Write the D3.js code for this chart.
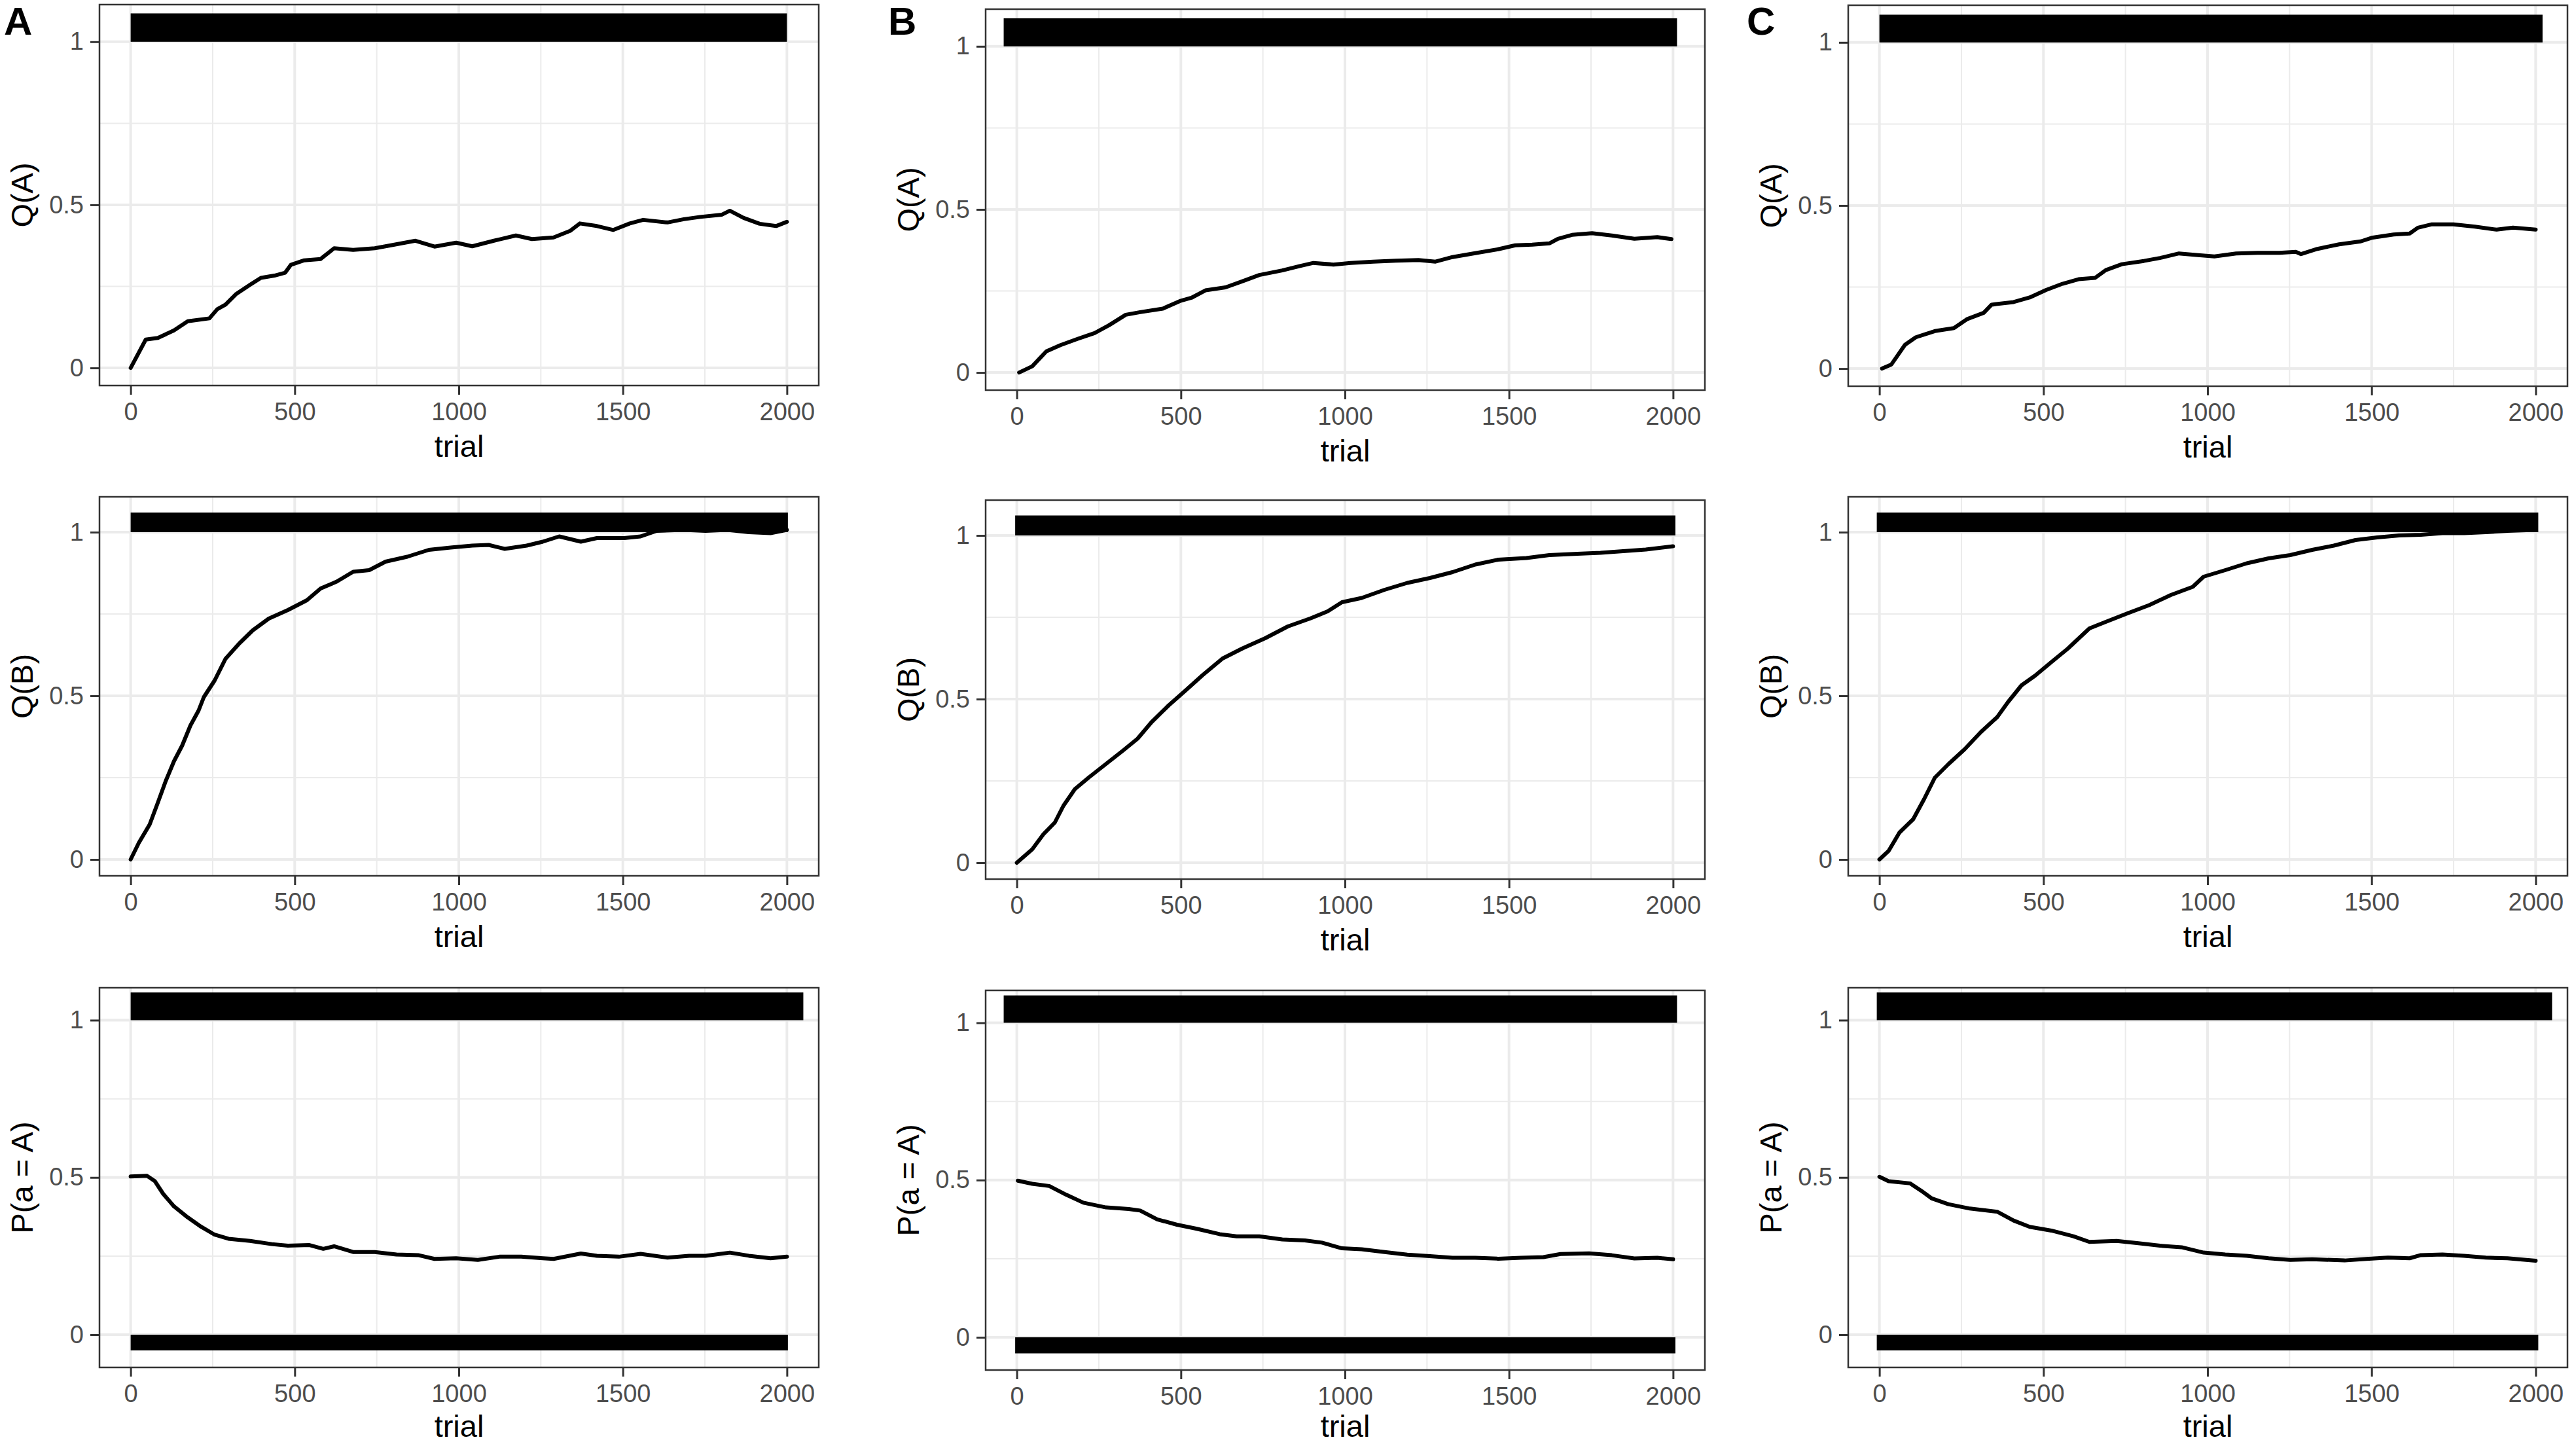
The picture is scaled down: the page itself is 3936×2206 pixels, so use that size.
<!DOCTYPE html>
<html>
<head>
<meta charset="utf-8">
<script src="https://cdn.jsdelivr.net/npm/d3@7"></script>
<style>
  html, body { margin: 0; padding: 0; background: #ffffff; }
  svg { display: block; }
  text { font-family: "Liberation Sans", Arial, Helvetica, sans-serif; }
</style>
</head>
<body>
<script>
// ---------------- DATA ----------------
const panelLetters = ["A", "B", "C"];
const rowTitles = ["Q(A)", "Q(B)", "P(a = A)"];
const xTitle = "trial";
const trialTicks = [0, 500, 1000, 1500, 2000];
const trialMinor = [250, 750, 1250, 1750];
const valueTicks = [0, 0.5, 1];
const valueTickLabels = ["0", "0.5", "1"];
const valueMinor = [0.25, 0.75];

// Column A
const qA_colA = [[0,0],[46,0.087],[83,0.092],[132,0.115],[174,0.143],[240,0.152],[264,0.18],[289,0.194],[322,0.227],[364,0.255],[397,0.276],[438,0.283],[471,0.292],[488,0.316],[529,0.33],[579,0.334],[620,0.367],[678,0.362],[744,0.367],[793,0.376],[868,0.39],[926,0.372],[992,0.384],[1041,0.373],[1107,0.39],[1174,0.406],[1223,0.395],[1289,0.4],[1339,0.42],[1369,0.443],[1421,0.435],[1471,0.423],[1521,0.443],[1562,0.454],[1636,0.446],[1686,0.456],[1736,0.463],[1802,0.47],[1826,0.482],[1868,0.46],[1917,0.442],[1967,0.435],[2000,0.448]];
const qB_colA = [[0,0],[25,0.051],[58,0.107],[83,0.174],[107,0.24],[132,0.3],[157,0.348],[182,0.409],[207,0.455],[223,0.496],[256,0.547],[289,0.613],[331,0.66],[372,0.7],[421,0.736],[479,0.762],[537,0.792],[579,0.828],[628,0.849],[678,0.879],[727,0.884],[777,0.91],[843,0.925],[909,0.946],[975,0.953],[1041,0.959],[1091,0.961],[1140,0.949],[1207,0.959],[1256,0.971],[1306,0.987],[1372,0.971],[1421,0.982],[1504,0.982],[1554,0.987],[1603,1.004],[1686,1.007],[1752,1.004],[1818,1.007],[1884,1.0],[1950,0.997],[2000,1.007]];
const pA_colA = [[0,0.503],[50,0.505],[74,0.488],[99,0.448],[132,0.408],[174,0.373],[215,0.343],[256,0.318],[298,0.305],[364,0.298],[430,0.288],[479,0.283],[545,0.285],[587,0.273],[620,0.281],[678,0.263],[744,0.263],[810,0.255],[876,0.253],[926,0.241],[992,0.243],[1058,0.238],[1124,0.248],[1190,0.248],[1256,0.243],[1289,0.241],[1372,0.258],[1421,0.251],[1488,0.248],[1554,0.257],[1636,0.245],[1702,0.251],[1752,0.251],[1826,0.261],[1884,0.251],[1950,0.243],[2000,0.248]];

// Column B
const qA_colB = [[7,0],[47,0.019],[90,0.065],[133,0.084],[185,0.103],[237,0.121],[281,0.145],[332,0.177],[376,0.185],[445,0.196],[497,0.219],[532,0.229],[575,0.252],[636,0.261],[688,0.28],[739,0.299],[809,0.313],[861,0.326],[904,0.336],[965,0.331],[1017,0.336],[1086,0.34],[1155,0.343],[1224,0.345],[1276,0.34],[1328,0.354],[1397,0.366],[1467,0.378],[1519,0.39],[1571,0.392],[1623,0.396],[1649,0.41],[1692,0.422],[1753,0.427],[1813,0.42],[1882,0.41],[1952,0.415],[1995,0.409]];
const qB_colB = [[0,0],[47,0.041],[81,0.087],[116,0.123],[142,0.174],[177,0.225],[220,0.261],[272,0.302],[324,0.343],[368,0.379],[411,0.43],[463,0.481],[515,0.527],[566,0.573],[627,0.624],[688,0.655],[757,0.686],[826,0.722],[896,0.747],[947,0.768],[991,0.796],[1051,0.809],[1121,0.834],[1190,0.855],[1259,0.87],[1328,0.888],[1397,0.911],[1467,0.926],[1553,0.931],[1623,0.94],[1709,0.944],[1779,0.947],[1848,0.952],[1917,0.957],[2000,0.967]];
const pA_colB = [[3,0.498],[47,0.488],[99,0.481],[151,0.453],[203,0.428],[272,0.413],[341,0.408],[376,0.403],[428,0.375],[488,0.358],[549,0.345],[618,0.328],[670,0.321],[739,0.321],[809,0.311],[878,0.308],[930,0.301],[991,0.283],[1051,0.28],[1121,0.271],[1190,0.263],[1259,0.258],[1328,0.253],[1397,0.253],[1467,0.25],[1536,0.253],[1605,0.255],[1657,0.265],[1744,0.267],[1813,0.261],[1882,0.251],[1952,0.253],[2000,0.248]];

// Column C
const qA_colC = [[8,0],[36,0.012],[78,0.073],[111,0.096],[169,0.115],[227,0.124],[268,0.152],[318,0.171],[342,0.196],[409,0.204],[458,0.218],[508,0.241],[558,0.26],[607,0.274],[657,0.278],[690,0.302],[739,0.32],[806,0.33],[855,0.339],[913,0.353],[971,0.348],[1021,0.344],[1087,0.353],[1153,0.355],[1219,0.355],[1269,0.358],[1285,0.351],[1335,0.367],[1401,0.381],[1467,0.39],[1500,0.401],[1567,0.411],[1616,0.414],[1641,0.432],[1682,0.442],[1749,0.442],[1815,0.435],[1881,0.426],[1931,0.432],[2000,0.426]];
const qB_colC = [[0,0],[28,0.026],[61,0.082],[103,0.123],[136,0.184],[169,0.25],[210,0.291],[260,0.337],[309,0.389],[359,0.435],[392,0.481],[433,0.532],[475,0.562],[524,0.603],[574,0.644],[640,0.706],[690,0.726],[756,0.752],[822,0.777],[888,0.808],[955,0.833],[988,0.864],[1054,0.884],[1120,0.905],[1186,0.92],[1252,0.93],[1319,0.946],[1385,0.959],[1451,0.976],[1517,0.984],[1584,0.99],[1650,0.992],[1716,0.997],[1782,0.997],[1848,1.0],[1914,1.004],[2000,1.007]];
const pA_colC = [[0,0.502],[28,0.488],[94,0.481],[127,0.458],[160,0.433],[210,0.415],[276,0.401],[359,0.391],[409,0.363],[458,0.343],[524,0.331],[591,0.313],[640,0.295],[723,0.298],[789,0.291],[855,0.283],[921,0.278],[988,0.261],[1054,0.255],[1120,0.251],[1186,0.243],[1252,0.238],[1319,0.24],[1418,0.236],[1484,0.241],[1550,0.245],[1616,0.243],[1650,0.253],[1716,0.255],[1782,0.251],[1848,0.245],[1914,0.243],[2000,0.235]];

// Choice / outcome rug bands: [trialFrom, trialTo, valueFrom, valueTo]
const rug_qA_colA = [[0, 2000, 1, 1.087]];
const rug_qB_colA = [[0, 2003, 1, 1.06]];
const rug_pA_colA = [[0, 2050, 1, 1.088], [0, 2003, 0, -0.05]];
const rug_qA_colB = [[-40, 2012, 1, 1.086]];
const rug_qB_colB = [[-5, 2007, 1, 1.061]];
const rug_pA_colB = [[-40, 2012, 1, 1.087], [-5, 2007, 0, -0.051]];
const rug_qA_colC = [[0, 2021, 1, 1.085]];
const rug_qB_colC = [[-8, 2008, 1, 1.06]];
const rug_pA_colC = [[-8, 2050, 1, 1.088], [-8, 2008, 0, -0.05]];

const seriesGrid = [
  [qA_colA, qB_colA, pA_colA],
  [qA_colB, qB_colB, pA_colB],
  [qA_colC, qB_colC, pA_colC]
];
const rugGrid = [
  [rug_qA_colA, rug_qB_colA, rug_pA_colA],
  [rug_qA_colB, rug_qB_colB, rug_pA_colB],
  [rug_qA_colC, rug_qB_colC, rug_pA_colC]
];

// ---------------- LAYOUT ----------------
const W = 3936, H = 2206;
const colLeft = [152, 1506, 2824];
const letterX = [6, 1357, 2669];
const panelW = 1099;
const rowTops = [[7, 759, 1509], [14, 764, 1513], [8, 759, 1509]];
const rowHeights = [582, 579, 580];
const yDomains = [[-0.054, 1.114], [-0.05, 1.108], [-0.104, 1.103]];
const xDomain = [-95, 2097];

const tickFont = 38, titleFont = 47, letterFont = 60;
const tickLen = 14;

const svg = d3.select("body").append("svg")
  .attr("width", W).attr("height", H)
  .attr("viewBox", `0 0 ${W} ${H}`);
svg.append("rect").attr("width", W).attr("height", H).attr("fill", "#ffffff");

panelLetters.forEach((letter, c) => {
  const left = colLeft[c];
  svg.append("text")
    .attr("x", letterX[c])
    .attr("y", 53)
    .attr("font-size", letterFont)
    .attr("font-weight", "bold")
    .attr("fill", "#000")
    .text(letter);

  rowTitles.forEach((title, r) => {
    const top = rowTops[c][r];
    const h = rowHeights[r];
    const x = d3.scaleLinear().domain(xDomain).range([left, left + panelW]);
    const y = d3.scaleLinear().domain(yDomains[r]).range([top + h, top]);

    const g = svg.append("g");

    g.append("rect").attr("x", left).attr("y", top)
      .attr("width", panelW).attr("height", h).attr("fill", "#fff");

    // minor grid
    g.selectAll(".vminor").data(trialMinor).enter().append("line")
      .attr("x1", d => x(d)).attr("x2", d => x(d))
      .attr("y1", top).attr("y2", top + h)
      .attr("stroke", "#ebebeb").attr("stroke-width", 2);
    g.selectAll(".hminor").data(valueMinor).enter().append("line")
      .attr("y1", d => y(d)).attr("y2", d => y(d))
      .attr("x1", left).attr("x2", left + panelW)
      .attr("stroke", "#ebebeb").attr("stroke-width", 2);
    // major grid
    g.selectAll(".vmajor").data(trialTicks).enter().append("line")
      .attr("x1", d => x(d)).attr("x2", d => x(d))
      .attr("y1", top).attr("y2", top + h)
      .attr("stroke", "#ebebeb").attr("stroke-width", 4);
    g.selectAll(".hmajor").data(valueTicks).enter().append("line")
      .attr("y1", d => y(d)).attr("y2", d => y(d))
      .attr("x1", left).attr("x2", left + panelW)
      .attr("stroke", "#ebebeb").attr("stroke-width", 4);

    // rug bands
    g.selectAll(".rug").data(rugGrid[c][r]).enter().append("rect")
      .attr("x", d => x(d[0]))
      .attr("width", d => x(d[1]) - x(d[0]))
      .attr("y", d => Math.min(y(d[2]), y(d[3])))
      .attr("height", d => Math.abs(y(d[2]) - y(d[3])))
      .attr("fill", "#000");

    // series line
    const line = d3.line().x(d => x(d[0])).y(d => y(d[1])).curve(d3.curveLinear);
    g.append("path").datum(seriesGrid[c][r])
      .attr("d", line)
      .attr("fill", "none")
      .attr("stroke", "#000")
      .attr("stroke-width", 6)
      .attr("stroke-linejoin", "round")
      .attr("stroke-linecap", "round");

    // border
    g.append("rect").attr("x", left).attr("y", top)
      .attr("width", panelW).attr("height", h)
      .attr("fill", "none").attr("stroke", "#333333").attr("stroke-width", 2.5);

    // axes
    const xAxis = d3.axisBottom(x).tickValues(trialTicks)
      .tickSize(tickLen).tickPadding(12).tickFormat(d3.format("d"));
    const gx = g.append("g").attr("transform", `translate(0,${top + h})`).call(xAxis);
    const yAxis = d3.axisLeft(y).tickValues(valueTicks)
      .tickSize(tickLen).tickPadding(10)
      .tickFormat((d, i) => valueTickLabels[i]);
    const gy = g.append("g").attr("transform", `translate(${left},0)`).call(yAxis);

    [gx, gy].forEach(ax => {
      ax.select(".domain").remove();
      ax.selectAll(".tick line").attr("stroke", "#333333").attr("stroke-width", 3);
      ax.selectAll(".tick text")
        .attr("fill", "#4d4d4d")
        .attr("font-size", tickFont)
        .attr("font-family", "\"Liberation Sans\", Arial, sans-serif");
    });

    // axis titles
    g.append("text")
      .attr("x", left + panelW / 2)
      .attr("y", Math.min(top + h + 109, 2195))
      .attr("text-anchor", "middle")
      .attr("font-size", titleFont)
      .attr("fill", "#000")
      .text(xTitle);
    g.append("text")
      .attr("transform", `translate(${left - 102},${top + h / 2}) rotate(-90)`)
      .attr("text-anchor", "middle")
      .attr("font-size", titleFont)
      .attr("fill", "#000")
      .text(title);
  });
});
</script>
</body>
</html>
